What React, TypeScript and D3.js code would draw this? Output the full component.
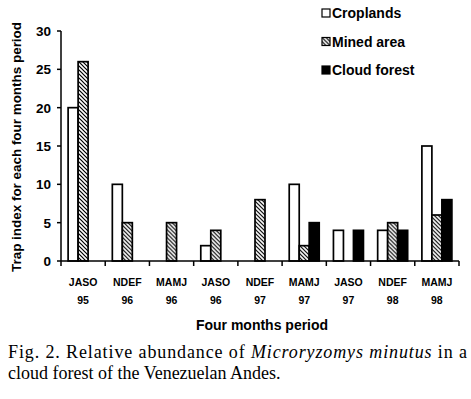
import React from 'react';
import * as d3 from 'd3';

// data
const periods = ['JASO', 'NDEF', 'MAMJ', 'JASO', 'NDEF', 'MAMJ', 'JASO', 'NDEF', 'MAMJ'];
const years = ['95', '96', '96', '96', '97', '97', '97', '98', '98'];
const seriesNames = ['Croplands', 'Mined area', 'Cloud forest'];
const croplands = [20, 10, 0, 2, 0, 10, 4, 4, 15];
const minedArea = [26, 5, 5, 4, 8, 2, 0, 5, 6];
const cloudForest = [0, 0, 0, 0, 0, 5, 4, 4, 8];
const yTicks = [0, 5, 10, 15, 20, 25, 30];

const W = 471;
const H = 399;
const margin = { left: 61, right: 12, top: 31, bottom: 138 };
const sans = '"Liberation Sans", Arial, Helvetica, sans-serif';
const serif = '"Liberation Serif", "Times New Roman", serif';

const fills = ['#fff', 'url(#hatch)', '#000'];

export default function App() {
  const keys = periods.map((p, i) => i);
  const x = d3
    .scaleBand<number>()
    .domain(keys)
    .range([margin.left, W - margin.right])
    .padding(0);
  const bw = x.bandwidth();
  // three 10px bars centred in each period
  const x1 = d3
    .scaleBand<number>()
    .domain([0, 1, 2])
    .range([(bw - 30) / 2, (bw + 30) / 2]);
  const y = d3
    .scaleLinear()
    .domain([0, 30])
    .range([H - margin.bottom, margin.top]);

  const values = [croplands, minedArea, cloudForest];
  const y0 = y(0);

  return (
    <svg
      width={W}
      height={H}
      style={{ position: 'absolute', left: 0, top: 0, background: '#fff' }}
    >
      <defs>
        <pattern id="hatch" patternUnits="userSpaceOnUse" width={4} height={4}>
          <rect width={4} height={4} fill="#fff" />
          <path d="M-1,-1 L5,5 M-1,3 L1,5 M3,-1 L5,1" stroke="#000" strokeWidth={1.2} />
        </pattern>
      </defs>

      {/* bars */}
      {keys.map((k) => (
        <g key={k} transform={`translate(${x(k)},0)`}>
          {values.map((vals, s) =>
            vals[k] > 0 ? (
              <rect
                key={s}
                x={x1(s)}
                y={y(vals[k])}
                width={x1.bandwidth()}
                height={y0 - y(vals[k])}
                fill={fills[s]}
                stroke="#000"
                strokeWidth={1.7}
              />
            ) : null
          )}
        </g>
      ))}

      {/* y axis */}
      <line x1={margin.left} x2={margin.left} y1={y(30)} y2={y0} stroke="#000" strokeWidth={1.5} />
      {yTicks.map((t) => (
        <g key={t}>
          <line x1={margin.left - 4} x2={margin.left} y1={y(t)} y2={y(t)} stroke="#000" strokeWidth={1.5} />
          <text
            x={51}
            y={y(t)}
            dy="0.36em"
            textAnchor="end"
            fontFamily={sans}
            fontWeight="bold"
            fontSize={13.5}
          >
            {t}
          </text>
        </g>
      ))}
      <text
        transform={`translate(21,${(y(30) + y0) / 2 + 1}) rotate(-90)`}
        textAnchor="middle"
        fontFamily={sans}
        fontWeight="bold"
        fontSize={13.5}
        textLength={250}
        lengthAdjust="spacingAndGlyphs"
      >
        Trap index for each four months period
      </text>

      {/* x axis */}
      <line x1={margin.left} x2={W - margin.right} y1={y0} y2={y0} stroke="#000" strokeWidth={1.5} />
      {[...keys.map((k) => x(k) as number), W - margin.right].map((px, i) => (
        <line key={i} x1={px} x2={px} y1={y0} y2={y0 + 5} stroke="#000" strokeWidth={1.5} />
      ))}
      {keys.map((k) => (
        <g key={k} fontFamily={sans} fontWeight="bold" fontSize={10.5} textAnchor="middle">
          <text x={(x(k) as number) + bw / 2} y={286}>
            {periods[k]}
          </text>
          <text x={(x(k) as number) + bw / 2} y={304}>
            {years[k]}
          </text>
        </g>
      ))}
      <text x={262} y={330} textAnchor="middle" fontFamily={sans} fontWeight="bold" fontSize={14}>
        Four months period
      </text>

      {/* legend */}
      {seriesNames.map((name, i) => (
        <g key={name} transform={`translate(322,${13 + i * 28.5})`}>
          <rect x={0} y={-4} width={8} height={8} fill={fills[i]} stroke="#000" strokeWidth={1.2} />
          <text x={10} y={0} dy="0.36em" fontFamily={sans} fontWeight="bold" fontSize={14}>
            {name}
          </text>
        </g>
      ))}

      {/* caption */}
      <text x={8} y={358} fontFamily={serif} fontSize={18} textLength={459} lengthAdjust="spacing">
        Fig. 2. Relative abundance of <tspan fontStyle="italic">Microryzomys minutus</tspan> in a
      </text>
      <text x={8} y={379} fontFamily={serif} fontSize={18}>
        cloud forest of the Venezuelan Andes.
      </text>
    </svg>
  );
}
